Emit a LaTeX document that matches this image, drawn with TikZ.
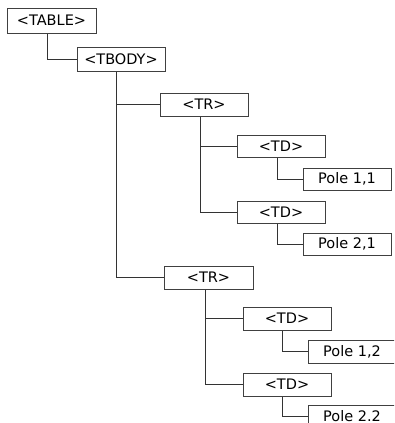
\documentclass[tikz,border=0pt]{standalone}
\usepackage{fontspec}
\setmainfont{DejaVu Sans}
\begin{document}
\begin{tikzpicture}[x=1pt,y=-1pt,
  box/.style={draw=black!75,line width=1pt,fill=white,minimum width=88pt,minimum height=23pt,inner sep=0pt,font=\fontsize{14.5}{16}\selectfont},
  link/.style={draw=black!80,line width=1pt}]
\useasboundingbox (0,0) rectangle (394,423);
\clip (0,0) rectangle (394,423);
\node[box,minimum height=25pt,minimum width=89pt] (table) at (51.5,20.5) {<TABLE>};
\node[box,minimum height=24pt] (tbody) at (121,59) {<TBODY>};
\node[box] (tr1) at (204,104.5) {<TR>};
\node[box,minimum height=22pt] (td1) at (281,146) {<TD>};
\node[box,minimum height=22pt] (p11) at (347,179) {Pole 1,1};
\node[box,minimum height=22pt] (td2) at (281,212) {<TD>};
\node[box,minimum height=22pt] (p21) at (347,244) {Pole 2,1};
\node[box,minimum width=89pt] (tr2) at (208.5,277.5) {<TR>};
\node[box] (td3) at (287,318.5) {<TD>};
\node[box] (p12) at (352,351.5) {Pole 1,2};
\node[box] (td4) at (287,384.5) {<TD>};
\node[box] (p22) at (352,416.5) {Pole 2.2};
\draw[link] ([xshift=41pt]table.south west) |- (tbody.west);
\draw[link] ([xshift=40pt]tbody.south west) |- (tr1.west);
\draw[link] ([xshift=40pt]tbody.south west) |- (tr2.west);
\draw[link] ([xshift=41pt]tr1.south west) |- (td1.west);
\draw[link] ([xshift=41pt]tr1.south west) |- (td2.west);
\draw[link] ([xshift=41pt]td1.south west) |- (p11.west);
\draw[link] ([xshift=41pt]td2.south west) |- (p21.west);
\draw[link] ([xshift=42pt]tr2.south west) |- (td3.west);
\draw[link] ([xshift=42pt]tr2.south west) |- (td4.west);
\draw[link] ([xshift=40pt]td3.south west) |- (p12.west);
\draw[link] ([xshift=40pt]td4.south west) |- (p22.west);
\end{tikzpicture}
\end{document}
